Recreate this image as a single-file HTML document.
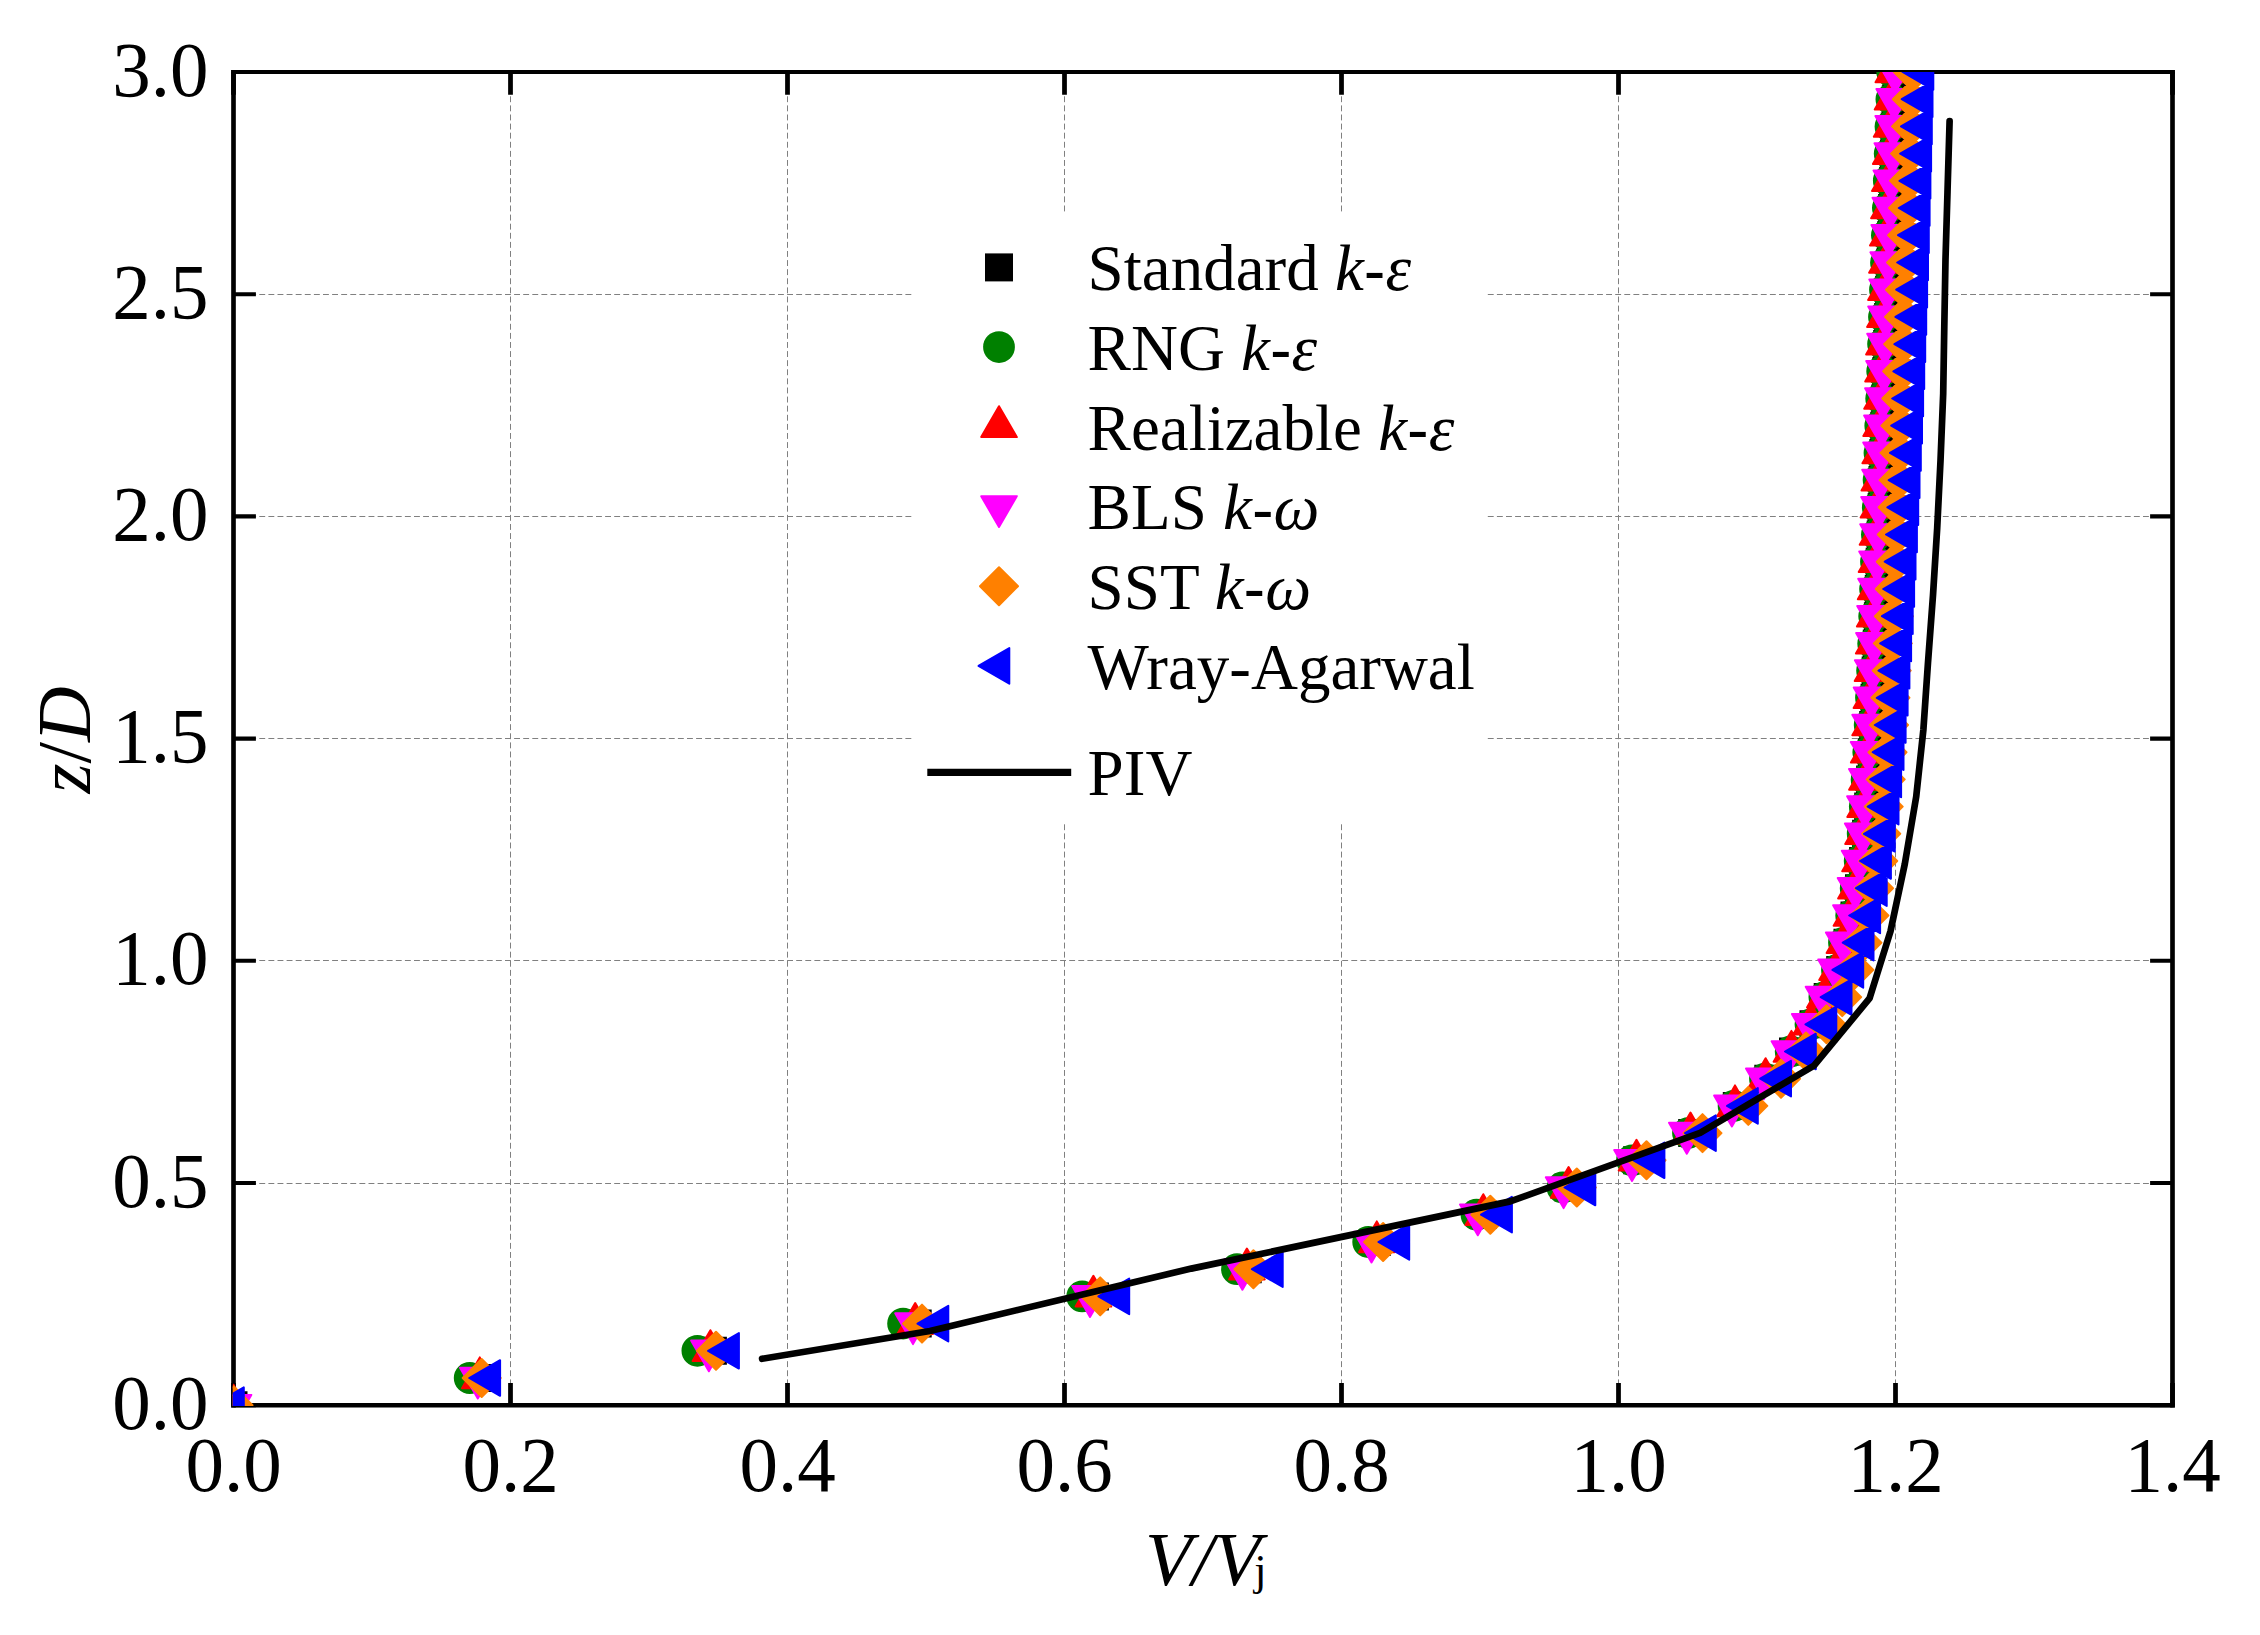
<!DOCTYPE html>
<html lang="en"><head><meta charset="utf-8"><title>V/Vj profile</title>
<style>html,body{margin:0;padding:0;background:#fff}svg{display:block}text{font-family:"Liberation Serif","Times New Roman",serif;fill:#000}.tk{font-size:77px}.lg{font-size:65px}.it{font-style:italic}.hy{font-family:"Liberation Sans",Arial,sans-serif;font-style:normal}</style></head><body>
<svg width="2260" height="1635" viewBox="0 0 2260 1635">
<rect width="2260" height="1635" fill="#fff"/>
<defs><clipPath id="ax"><rect x="232.8" y="72.1" width="1940.4" height="1333.8"/></clipPath></defs>
<path d="M510.5 70.5V1405.2M787.5 70.5V1405.2M1064.5 70.5V1405.2M1341.5 70.5V1405.2M1618.5 70.5V1405.2M1895.5 70.5V1405.2" fill="none" stroke="#808080" stroke-width="1" stroke-dasharray="5.9 3.2" stroke-dashoffset="1.5"/>
<path d="M232 1183.5H2172.5M232 960.5H2172.5M232 738.5H2172.5M232 516.5H2172.5M232 294.5H2172.5" fill="none" stroke="#808080" stroke-width="1" stroke-dasharray="5.9 3.2"/>
<path d="M233.5 69.9V1407.5M2172.5 69.9V1407.5" stroke="#000" stroke-width="4.65" fill="none"/>
<path d="M231.2 71.9H2174.85" stroke="#000" stroke-width="4" fill="none"/>
<path d="M231.2 1405.3H2174.85" stroke="#000" stroke-width="4.4" fill="none"/>
<path d="M233.5 71.9V94.7M233.5 1405.3V1383M510.5 71.9V94.7M510.5 1405.3V1383M787.5 71.9V94.7M787.5 1405.3V1383M1064.5 71.9V94.7M1064.5 1405.3V1383M1341.5 71.9V94.7M1341.5 1405.3V1383M1618.5 71.9V94.7M1618.5 1405.3V1383M1895.5 71.9V94.7M1895.5 1405.3V1383M2172.5 71.9V94.7M2172.5 1405.3V1383" fill="none" stroke="#000" stroke-width="4.75"/>
<path d="M233.5 1405.2H255.9M2172.5 1405.2H2150.1M233.5 1183H255.9M2172.5 1183H2150.1M233.5 960.8H255.9M2172.5 960.8H2150.1M233.5 738.6H255.9M2172.5 738.6H2150.1M233.5 516.4H255.9M2172.5 516.4H2150.1M233.5 294.2H255.9M2172.5 294.2H2150.1M233.5 72H255.9M2172.5 72H2150.1" fill="none" stroke="#000" stroke-width="4.1"/>
<g clip-path="url(#ax)">
<path d="M219.5 1391.2h28v28h-28zM466.7 1364h28v28h-28zM698.9 1336.8h28v28h-28zM903.7 1309.6h28v28h-28zM1080.9 1282.4h28v28h-28zM1233.7 1255.2h28v28h-28zM1362.7 1228h28v28h-28zM1469 1200.7h28v28h-28zM1554.5 1173.5h28v28h-28zM1623.1 1146.3h28v28h-28zM1678.2 1119.1h28v28h-28zM1722.8 1091.9h28v28h-28zM1754.3 1064.7h28v28h-28zM1779 1037.5h28v28h-28zM1799.5 1010.3h28v28h-28zM1813.7 983.1h28v28h-28zM1826.2 955.9h28v28h-28zM1833.5 928.7h28v28h-28zM1840.5 901.5h28v28h-28zM1845 874.2h28v28h-28zM1849.1 847h28v28h-28zM1852.1 819.8h28v28h-28zM1854.2 792.6h28v28h-28zM1856.1 765.4h28v28h-28zM1857.8 738.2h28v28h-28zM1859.2 711h28v28h-28zM1860.6 683.8h28v28h-28zM1861.7 656.6h28v28h-28zM1862.8 629.4h28v28h-28zM1863.9 602.2h28v28h-28zM1864.8 575h28v28h-28zM1865.7 547.7h28v28h-28zM1866.7 520.5h28v28h-28zM1867.6 493.3h28v28h-28zM1868.5 466.1h28v28h-28zM1869.4 438.9h28v28h-28zM1870.3 411.7h28v28h-28zM1871.2 384.5h28v28h-28zM1872.2 357.3h28v28h-28zM1873.2 330.1h28v28h-28zM1874.1 302.9h28v28h-28zM1875.1 275.7h28v28h-28zM1876.2 248.5h28v28h-28zM1877.1 221.2h28v28h-28zM1878.1 194h28v28h-28zM1879.1 166.8h28v28h-28zM1880 139.6h28v28h-28zM1880.8 112.4h28v28h-28zM1881.8 85.2h28v28h-28zM1882.6 58h28v28h-28z" fill="#000000"/>
<path d="M217.6 1405.2a15.9 15.9 0 1 0 31.8 0a15.9 15.9 0 1 0 -31.8 0zM453.8 1378a15.9 15.9 0 1 0 31.8 0a15.9 15.9 0 1 0 -31.8 0zM681.5 1350.8a15.9 15.9 0 1 0 31.8 0a15.9 15.9 0 1 0 -31.8 0zM887.2 1323.6a15.9 15.9 0 1 0 31.8 0a15.9 15.9 0 1 0 -31.8 0zM1066.3 1296.4a15.9 15.9 0 1 0 31.8 0a15.9 15.9 0 1 0 -31.8 0zM1221.1 1269.2a15.9 15.9 0 1 0 31.8 0a15.9 15.9 0 1 0 -31.8 0zM1352.3 1242a15.9 15.9 0 1 0 31.8 0a15.9 15.9 0 1 0 -31.8 0zM1460.6 1214.7a15.9 15.9 0 1 0 31.8 0a15.9 15.9 0 1 0 -31.8 0zM1546.6 1187.5a15.9 15.9 0 1 0 31.8 0a15.9 15.9 0 1 0 -31.8 0zM1616.1 1160.3a15.9 15.9 0 1 0 31.8 0a15.9 15.9 0 1 0 -31.8 0zM1672.1 1133.1a15.9 15.9 0 1 0 31.8 0a15.9 15.9 0 1 0 -31.8 0zM1717.7 1105.9a15.9 15.9 0 1 0 31.8 0a15.9 15.9 0 1 0 -31.8 0zM1749.1 1078.7a15.9 15.9 0 1 0 31.8 0a15.9 15.9 0 1 0 -31.8 0zM1774.8 1051.5a15.9 15.9 0 1 0 31.8 0a15.9 15.9 0 1 0 -31.8 0zM1794.6 1024.3a15.9 15.9 0 1 0 31.8 0a15.9 15.9 0 1 0 -31.8 0zM1808.5 997.1a15.9 15.9 0 1 0 31.8 0a15.9 15.9 0 1 0 -31.8 0zM1821.1 969.9a15.9 15.9 0 1 0 31.8 0a15.9 15.9 0 1 0 -31.8 0zM1828.1 942.7a15.9 15.9 0 1 0 31.8 0a15.9 15.9 0 1 0 -31.8 0zM1835.3 915.5a15.9 15.9 0 1 0 31.8 0a15.9 15.9 0 1 0 -31.8 0zM1839.8 888.2a15.9 15.9 0 1 0 31.8 0a15.9 15.9 0 1 0 -31.8 0zM1843.8 861a15.9 15.9 0 1 0 31.8 0a15.9 15.9 0 1 0 -31.8 0zM1846.8 833.8a15.9 15.9 0 1 0 31.8 0a15.9 15.9 0 1 0 -31.8 0zM1848.9 806.6a15.9 15.9 0 1 0 31.8 0a15.9 15.9 0 1 0 -31.8 0zM1850.7 779.4a15.9 15.9 0 1 0 31.8 0a15.9 15.9 0 1 0 -31.8 0zM1852.4 752.2a15.9 15.9 0 1 0 31.8 0a15.9 15.9 0 1 0 -31.8 0zM1853.8 725a15.9 15.9 0 1 0 31.8 0a15.9 15.9 0 1 0 -31.8 0zM1855.1 697.8a15.9 15.9 0 1 0 31.8 0a15.9 15.9 0 1 0 -31.8 0zM1856.2 670.6a15.9 15.9 0 1 0 31.8 0a15.9 15.9 0 1 0 -31.8 0zM1857.3 643.4a15.9 15.9 0 1 0 31.8 0a15.9 15.9 0 1 0 -31.8 0zM1858.3 616.2a15.9 15.9 0 1 0 31.8 0a15.9 15.9 0 1 0 -31.8 0zM1859.2 589a15.9 15.9 0 1 0 31.8 0a15.9 15.9 0 1 0 -31.8 0zM1860.1 561.7a15.9 15.9 0 1 0 31.8 0a15.9 15.9 0 1 0 -31.8 0zM1861 534.5a15.9 15.9 0 1 0 31.8 0a15.9 15.9 0 1 0 -31.8 0zM1861.9 507.3a15.9 15.9 0 1 0 31.8 0a15.9 15.9 0 1 0 -31.8 0zM1862.7 480.1a15.9 15.9 0 1 0 31.8 0a15.9 15.9 0 1 0 -31.8 0zM1863.6 452.9a15.9 15.9 0 1 0 31.8 0a15.9 15.9 0 1 0 -31.8 0zM1864.4 425.7a15.9 15.9 0 1 0 31.8 0a15.9 15.9 0 1 0 -31.8 0zM1865.3 398.5a15.9 15.9 0 1 0 31.8 0a15.9 15.9 0 1 0 -31.8 0zM1866.3 371.3a15.9 15.9 0 1 0 31.8 0a15.9 15.9 0 1 0 -31.8 0zM1867.2 344.1a15.9 15.9 0 1 0 31.8 0a15.9 15.9 0 1 0 -31.8 0zM1868.1 316.9a15.9 15.9 0 1 0 31.8 0a15.9 15.9 0 1 0 -31.8 0zM1869.1 289.7a15.9 15.9 0 1 0 31.8 0a15.9 15.9 0 1 0 -31.8 0zM1870.1 262.5a15.9 15.9 0 1 0 31.8 0a15.9 15.9 0 1 0 -31.8 0zM1871 235.2a15.9 15.9 0 1 0 31.8 0a15.9 15.9 0 1 0 -31.8 0zM1872 208a15.9 15.9 0 1 0 31.8 0a15.9 15.9 0 1 0 -31.8 0zM1872.9 180.8a15.9 15.9 0 1 0 31.8 0a15.9 15.9 0 1 0 -31.8 0zM1873.8 153.6a15.9 15.9 0 1 0 31.8 0a15.9 15.9 0 1 0 -31.8 0zM1874.6 126.4a15.9 15.9 0 1 0 31.8 0a15.9 15.9 0 1 0 -31.8 0zM1875.5 99.2a15.9 15.9 0 1 0 31.8 0a15.9 15.9 0 1 0 -31.8 0zM1876.3 72a15.9 15.9 0 1 0 31.8 0a15.9 15.9 0 1 0 -31.8 0z" fill="#008000"/>
<path d="M233.5 1384.7L251.3 1415.5L215.7 1415.5zM479.8 1357.4L497.6 1388.3L462 1388.3zM710.4 1330.2L728.2 1361.1L692.6 1361.1zM915.2 1303L933 1333.9L897.4 1333.9zM1093.4 1275.8L1111.2 1306.6L1075.6 1306.6zM1246.9 1248.6L1264.7 1279.4L1229.1 1279.4zM1376.8 1221.4L1394.6 1252.2L1359 1252.2zM1483.3 1194.2L1501.1 1225L1465.5 1225zM1568.6 1167L1586.4 1197.8L1550.8 1197.8zM1636.5 1139.8L1654.3 1170.6L1618.7 1170.6zM1690.5 1112.6L1708.3 1143.4L1672.7 1143.4zM1735 1085.4L1752.8 1116.2L1717.2 1116.2zM1765.6 1058.2L1783.4 1089L1747.8 1089zM1791.4 1030.9L1809.2 1061.8L1773.6 1061.8zM1811 1003.7L1828.8 1034.6L1793.2 1034.6zM1824.8 976.5L1842.6 1007.4L1807 1007.4zM1837 949.3L1854.8 980.1L1819.2 980.1zM1844.4 922.1L1862.2 952.9L1826.6 952.9zM1851.4 894.9L1869.2 925.7L1833.6 925.7zM1855.9 867.7L1873.7 898.5L1838.1 898.5zM1860 840.5L1877.7 871.3L1842.2 871.3zM1863 813.3L1880.8 844.1L1845.2 844.1zM1865.1 786.1L1882.9 816.9L1847.3 816.9zM1866.9 758.9L1884.7 789.7L1849.1 789.7zM1868.7 731.7L1886.5 762.5L1850.9 762.5zM1870.1 704.4L1887.9 735.3L1852.3 735.3zM1871.4 677.2L1889.2 708.1L1853.6 708.1zM1872.5 650L1890.3 680.9L1854.7 680.9zM1873.7 622.8L1891.5 653.6L1855.9 653.6zM1874.7 595.6L1892.5 626.4L1856.9 626.4zM1875.6 568.4L1893.4 599.2L1857.8 599.2zM1876.5 541.2L1894.3 572L1858.7 572zM1877.5 514L1895.3 544.8L1859.7 544.8zM1878.4 486.8L1896.2 517.6L1860.6 517.6zM1879.3 459.6L1897.1 490.4L1861.5 490.4zM1880.2 432.4L1898 463.2L1862.4 463.2zM1881.1 405.2L1898.9 436L1863.3 436zM1882 377.9L1899.8 408.8L1864.2 408.8zM1883 350.7L1900.8 381.6L1865.2 381.6zM1883.9 323.5L1901.7 354.4L1866.1 354.4zM1884.9 296.3L1902.7 327.1L1867.1 327.1zM1885.9 269.1L1903.7 299.9L1868.1 299.9zM1886.9 241.9L1904.7 272.7L1869.1 272.7zM1887.8 214.7L1905.6 245.5L1870 245.5zM1888.9 187.5L1906.7 218.3L1871.1 218.3zM1889.8 160.3L1907.6 191.1L1872 191.1zM1890.7 133.1L1908.5 163.9L1872.9 163.9zM1891.5 105.9L1909.3 136.7L1873.8 136.7zM1892.5 78.7L1910.3 109.5L1874.7 109.5zM1893.3 51.5L1911.1 82.3L1875.5 82.3z" fill="#ff0000" stroke="#ff0000" stroke-width="2" stroke-linejoin="round"/>
<path d="M233.5 1425.8L251.3 1394.9L215.7 1394.9zM477.8 1398.5L495.6 1367.7L460 1367.7zM708.9 1371.3L726.7 1340.5L691.1 1340.5zM913 1344.1L930.8 1313.3L895.2 1313.3zM1090 1316.9L1107.8 1286.1L1072.2 1286.1zM1242.4 1289.7L1260.2 1258.9L1224.6 1258.9zM1371.5 1262.5L1389.3 1231.7L1353.7 1231.7zM1477.8 1235.3L1495.6 1204.5L1460 1204.5zM1563.6 1208.1L1581.4 1177.3L1545.8 1177.3zM1632 1180.9L1649.8 1150.1L1614.2 1150.1zM1686.8 1153.7L1704.6 1122.8L1669 1122.8zM1731.9 1126.5L1749.7 1095.6L1714.1 1095.6zM1763.8 1099.3L1781.6 1068.4L1746 1068.4zM1789.4 1072L1807.2 1041.2L1771.6 1041.2zM1809.7 1044.8L1827.5 1014L1791.9 1014zM1823.5 1017.6L1841.3 986.8L1805.7 986.8zM1836 990.4L1853.8 959.6L1818.2 959.6zM1843.7 963.2L1861.5 932.4L1825.9 932.4zM1850.9 936L1868.7 905.2L1833.1 905.2zM1855.5 908.8L1873.3 878L1837.7 878zM1859.6 881.6L1877.4 850.8L1841.8 850.8zM1862.7 854.4L1880.5 823.6L1844.9 823.6zM1864.9 827.2L1882.7 796.3L1847.1 796.3zM1866.8 800L1884.6 769.1L1849 769.1zM1868.6 772.8L1886.4 741.9L1850.8 741.9zM1870.1 745.5L1887.9 714.7L1852.3 714.7zM1871.5 718.3L1889.3 687.5L1853.7 687.5zM1872.7 691.1L1890.5 660.3L1854.9 660.3zM1873.9 663.9L1891.7 633.1L1856.1 633.1zM1875 636.7L1892.8 605.9L1857.2 605.9zM1876 609.5L1893.8 578.7L1858.2 578.7zM1877 582.3L1894.8 551.5L1859.2 551.5zM1878 555.1L1895.8 524.3L1860.2 524.3zM1879 527.9L1896.8 497.1L1861.2 497.1zM1880 500.7L1897.8 469.8L1862.2 469.8zM1881 473.5L1898.8 442.6L1863.2 442.6zM1881.9 446.3L1899.7 415.4L1864.1 415.4zM1882.9 419L1900.7 388.2L1865.1 388.2zM1884 391.8L1901.8 361L1866.2 361zM1885 364.6L1902.8 333.8L1867.2 333.8zM1886 337.4L1903.8 306.6L1868.2 306.6zM1887.1 310.2L1904.9 279.4L1869.3 279.4zM1888.2 283L1906 252.2L1870.4 252.2zM1889.2 255.8L1907 225L1871.4 225zM1890.3 228.6L1908.1 197.8L1872.5 197.8zM1891.3 201.4L1909.1 170.6L1873.5 170.6zM1892.3 174.2L1910.1 143.3L1874.5 143.3zM1893.2 147L1911 116.1L1875.4 116.1zM1894.2 119.8L1912 88.9L1876.4 88.9zM1895.1 92.5L1912.9 61.7L1877.3 61.7z" fill="#ff00ff" stroke="#ff00ff" stroke-width="2" stroke-linejoin="round"/>
<path d="M233.5 1386.2L252.5 1405.2L233.5 1424.2L214.5 1405.2zM481.7 1359L500.7 1378L481.7 1397L462.7 1378zM716 1331.8L735 1350.8L716 1369.8L697 1350.8zM922 1304.6L941 1323.6L922 1342.6L903 1323.6zM1100.2 1277.4L1119.2 1296.4L1100.2 1315.4L1081.2 1296.4zM1253.4 1250.2L1272.4 1269.2L1253.4 1288.2L1234.4 1269.2zM1383.1 1223L1402.1 1242L1383.1 1261L1364.1 1242zM1490.3 1195.7L1509.3 1214.7L1490.3 1233.7L1471.3 1214.7zM1576.8 1168.5L1595.8 1187.5L1576.8 1206.5L1557.8 1187.5zM1646.5 1141.3L1665.5 1160.3L1646.5 1179.3L1627.5 1160.3zM1702.5 1114.1L1721.5 1133.1L1702.5 1152.1L1683.5 1133.1zM1748.3 1086.9L1767.3 1105.9L1748.3 1124.9L1729.3 1105.9zM1781 1059.7L1800 1078.7L1781 1097.7L1762 1078.7zM1806 1032.5L1825 1051.5L1806 1070.5L1787 1051.5zM1826.5 1005.3L1845.5 1024.3L1826.5 1043.3L1807.5 1024.3zM1842.2 978.1L1861.2 997.1L1842.2 1016.1L1823.2 997.1zM1854.4 950.9L1873.4 969.9L1854.4 988.9L1835.4 969.9zM1862.4 923.7L1881.4 942.7L1862.4 961.7L1843.4 942.7zM1869.4 896.5L1888.4 915.5L1869.4 934.5L1850.4 915.5zM1874 869.2L1893 888.2L1874 907.2L1855 888.2zM1878.2 842L1897.2 861L1878.2 880L1859.2 861zM1881.2 814.8L1900.2 833.8L1881.2 852.8L1862.2 833.8zM1883.7 787.6L1902.7 806.6L1883.7 825.6L1864.7 806.6zM1885.7 760.4L1904.7 779.4L1885.7 798.4L1866.7 779.4zM1887.5 733.2L1906.5 752.2L1887.5 771.2L1868.5 752.2zM1889 706L1908 725L1889 744L1870 725zM1890.4 678.8L1909.4 697.8L1890.4 716.8L1871.4 697.8zM1891.7 651.6L1910.7 670.6L1891.7 689.6L1872.7 670.6zM1892.8 624.4L1911.8 643.4L1892.8 662.4L1873.8 643.4zM1893.9 597.2L1912.9 616.2L1893.9 635.2L1874.9 616.2zM1894.8 570L1913.8 589L1894.8 608L1875.8 589zM1895.8 542.7L1914.8 561.7L1895.8 580.7L1876.8 561.7zM1896.8 515.5L1915.8 534.5L1896.8 553.5L1877.8 534.5zM1897.7 488.3L1916.7 507.3L1897.7 526.3L1878.7 507.3zM1898.6 461.1L1917.6 480.1L1898.6 499.1L1879.6 480.1zM1899.5 433.9L1918.5 452.9L1899.5 471.9L1880.5 452.9zM1900.4 406.7L1919.4 425.7L1900.4 444.7L1881.4 425.7zM1901.3 379.5L1920.3 398.5L1901.3 417.5L1882.3 398.5zM1902.2 352.3L1921.2 371.3L1902.2 390.3L1883.2 371.3zM1903.1 325.1L1922.1 344.1L1903.1 363.1L1884.1 344.1zM1904 297.9L1923 316.9L1904 335.9L1885 316.9zM1905 270.7L1924 289.7L1905 308.7L1886 289.7zM1906.1 243.5L1925.1 262.5L1906.1 281.5L1887.1 262.5zM1907.1 216.2L1926.1 235.2L1907.1 254.2L1888.1 235.2zM1908.1 189L1927.1 208L1908.1 227L1889.1 208zM1909.1 161.8L1928.1 180.8L1909.1 199.8L1890.1 180.8zM1910 134.6L1929 153.6L1910 172.6L1891 153.6zM1911 107.4L1930 126.4L1911 145.4L1892 126.4zM1911.9 80.2L1930.9 99.2L1911.9 118.2L1892.9 99.2zM1912.8 53L1931.8 72L1912.8 91L1893.8 72z" fill="#ff8000" stroke="#ff8000" stroke-width="2" stroke-linejoin="round"/>
<path d="M212.9 1405.2L243.8 1387.4L243.8 1423zM469.2 1378L500.1 1360.2L500.1 1395.8zM708.1 1350.8L738.9 1333L738.9 1368.6zM917.5 1323.6L948.3 1305.8L948.3 1341.4zM1098.4 1296.4L1129.2 1278.6L1129.2 1314.2zM1251.9 1269.2L1282.7 1251.4L1282.7 1287zM1378.4 1242L1409.2 1224.2L1409.2 1259.7zM1481 1214.7L1511.9 1196.9L1511.9 1232.5zM1564.5 1187.5L1595.3 1169.7L1595.3 1205.3zM1633.5 1160.3L1664.4 1142.5L1664.4 1178.1zM1685 1133.1L1715.8 1115.3L1715.8 1150.9zM1727 1105.9L1757.8 1088.1L1757.8 1123.7zM1760.2 1078.7L1791 1060.9L1791 1096.5zM1785 1051.5L1815.8 1033.7L1815.8 1069.3zM1805.5 1024.3L1836.3 1006.5L1836.3 1042.1zM1820.7 997.1L1851.5 979.3L1851.5 1014.9zM1832.4 969.9L1863.2 952.1L1863.2 987.7zM1842.7 942.7L1873.5 924.9L1873.5 960.5zM1849.2 915.5L1880.1 897.7L1880.1 933.2zM1855.9 888.2L1886.7 870.4L1886.7 906zM1860 861L1890.9 843.2L1890.9 878.8zM1864 833.8L1894.8 816L1894.8 851.6zM1867.7 806.6L1898.5 788.8L1898.5 824.4zM1870.2 779.4L1901.1 761.6L1901.1 797.2zM1872.7 752.2L1903.5 734.4L1903.5 770zM1874.8 725L1905.6 707.2L1905.6 742.8zM1876.8 697.8L1907.6 680L1907.6 715.6zM1878.5 670.6L1909.4 652.8L1909.4 688.4zM1880.2 643.4L1911.1 625.6L1911.1 661.2zM1881.9 616.2L1912.7 598.4L1912.7 634zM1883.2 589L1914.1 571.2L1914.1 606.8zM1884.7 561.7L1915.5 544L1915.5 579.5zM1886 534.5L1916.9 516.7L1916.9 552.3zM1887.4 507.3L1918.2 489.5L1918.2 525.1zM1888.7 480.1L1919.5 462.3L1919.5 497.9zM1890 452.9L1920.8 435.1L1920.8 470.7zM1891.2 425.7L1922 407.9L1922 443.5zM1892.2 398.5L1923.1 380.7L1923.1 416.3zM1893.4 371.3L1924.2 353.5L1924.2 389.1zM1894.4 344.1L1925.2 326.3L1925.2 361.9zM1895.4 316.9L1926.2 299.1L1926.2 334.7zM1896.2 289.7L1927.1 271.9L1927.1 307.5zM1897.2 262.5L1928 244.7L1928 280.3zM1898 235.2L1928.8 217.5L1928.8 253zM1898.8 208L1929.6 190.2L1929.6 225.8zM1899.5 180.8L1930.4 163L1930.4 198.6zM1900.2 153.6L1931.1 135.8L1931.1 171.4zM1901 126.4L1931.8 108.6L1931.8 144.2zM1901.7 99.2L1932.5 81.4L1932.5 117zM1902.5 72L1933.3 54.2L1933.3 89.8z" fill="#0000ff" stroke="#0000ff" stroke-width="2" stroke-linejoin="round"/>
</g>
<polyline points="762.1,1358.8 930,1331 1116,1286.4 1191.3,1268.6 1510.3,1201.4 1700.1,1132.8 1814,1065.6 1869.5,998.4 1890.5,931.2 1904.8,864 1916.2,796.8 1923.4,729.6 1928,662.4 1933,595.2 1937.2,528 1940.5,460.8 1943.2,393.6 1944.3,326.4 1945.5,259.2 1947.5,192 1949.6,121.1" fill="none" stroke="#000" stroke-width="6.7" stroke-linecap="round" stroke-linejoin="round"/>
<rect x="912" y="212" width="573" height="611" fill="#fff"/>
<path d="M985 253.4h28v28h-28z" fill="#000000"/>
<path d="M983.1 347.1a15.9 15.9 0 1 0 31.8 0a15.9 15.9 0 1 0 -31.8 0z" fill="#008000"/>
<path d="M999 406.2L1016.8 437.1L981.2 437.1z" fill="#ff0000" stroke="#ff0000" stroke-width="2" stroke-linejoin="round"/>
<path d="M999 527L1016.8 496.2L981.2 496.2z" fill="#ff00ff" stroke="#ff00ff" stroke-width="2" stroke-linejoin="round"/>
<path d="M999 567.2L1018 586.2L999 605.2L980 586.2z" fill="#ff8000" stroke="#ff8000" stroke-width="2" stroke-linejoin="round"/>
<path d="M978.5 665.9L1009.3 648.1L1009.3 683.7z" fill="#0000ff" stroke="#0000ff" stroke-width="2" stroke-linejoin="round"/>
<path d="M927.3 772.4H1071.2" stroke="#000" stroke-width="7.2" fill="none"/>
<text class="lg" x="1087.6" y="290.1" xml:space="preserve">Standard <tspan class="it">k</tspan><tspan class="hy" dy="2.5">-</tspan><tspan class="it" dy="-2.5">ε</tspan></text>
<text class="lg" x="1087.6" y="369.8" xml:space="preserve">RNG <tspan class="it">k</tspan><tspan class="hy" dy="2.5">-</tspan><tspan class="it" dy="-2.5">ε</tspan></text>
<text class="lg" x="1087.6" y="449.5" xml:space="preserve">Realizable <tspan class="it">k</tspan><tspan class="hy" dy="2.5">-</tspan><tspan class="it" dy="-2.5">ε</tspan></text>
<text class="lg" x="1087.6" y="529.2" xml:space="preserve">BLS <tspan class="it">k</tspan><tspan class="hy" dy="2.5">-</tspan><tspan class="it" dy="-2.5">ω</tspan></text>
<text class="lg" x="1087.6" y="608.9" xml:space="preserve">SST <tspan class="it">k</tspan><tspan class="hy" dy="2.5">-</tspan><tspan class="it" dy="-2.5">ω</tspan></text>
<text class="lg" x="1087.6" y="688.6">Wray-Agarwal</text>
<text class="lg" x="1087.6" y="795.1">PIV</text>
<text class="tk" text-anchor="middle" transform="translate(233.5 1490.6) scale(1 1.03)">0.0</text>
<text class="tk" text-anchor="middle" transform="translate(510.5 1490.6) scale(1 1.03)">0.2</text>
<text class="tk" text-anchor="middle" transform="translate(787.5 1490.6) scale(1 1.03)">0.4</text>
<text class="tk" text-anchor="middle" transform="translate(1064.5 1490.6) scale(1 1.03)">0.6</text>
<text class="tk" text-anchor="middle" transform="translate(1341.5 1490.6) scale(1 1.03)">0.8</text>
<text class="tk" text-anchor="middle" transform="translate(1618.5 1490.6) scale(1 1.03)">1.0</text>
<text class="tk" text-anchor="middle" transform="translate(1895.5 1490.6) scale(1 1.03)">1.2</text>
<text class="tk" text-anchor="middle" transform="translate(2172.5 1490.6) scale(1 1.03)">1.4</text>
<text class="tk" text-anchor="end" transform="translate(208.5 1428.7) scale(1 1.03)">0.0</text>
<text class="tk" text-anchor="end" transform="translate(208.5 1206.5) scale(1 1.03)">0.5</text>
<text class="tk" text-anchor="end" transform="translate(208.5 984.3) scale(1 1.03)">1.0</text>
<text class="tk" text-anchor="end" transform="translate(208.5 762.1) scale(1 1.03)">1.5</text>
<text class="tk" text-anchor="end" transform="translate(208.5 539.9) scale(1 1.03)">2.0</text>
<text class="tk" text-anchor="end" transform="translate(208.5 317.7) scale(1 1.03)">2.5</text>
<text class="tk" text-anchor="end" transform="translate(208.5 95.5) scale(1 1.03)">3.0</text>
<text class="tk it" x="1145" y="1585.4">V/V<tspan x="1254.2" style="font-size:44px;font-style:normal">j</tspan></text>
<text class="tk it" text-anchor="middle" transform="translate(89.7 740) rotate(-90)">z<tspan style="font-style:normal">/</tspan>D</text>
</svg></body></html>
